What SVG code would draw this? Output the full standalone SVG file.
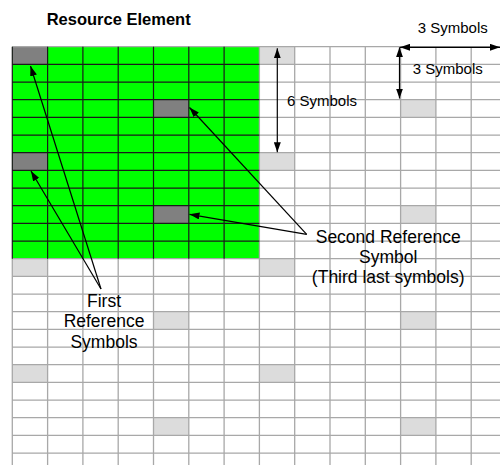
<svg xmlns="http://www.w3.org/2000/svg" width="500" height="465" viewBox="0 0 500 465">
<defs>
<style>
.gl{stroke:#a8a8a8;stroke-width:1.3;fill:none}
.bl{stroke:#1a1a1a;stroke-width:1.2;fill:none}
.lt{fill:#dcdcdc}
.dk{fill:#808080}
.ar{stroke:#000;stroke-width:1.2;fill:none}
.t{font-family:"Liberation Sans",Arial,sans-serif;fill:#000}
</style>
<marker id="ah" viewBox="0 0 10 7" refX="10" refY="3.5" markerWidth="10" markerHeight="7" markerUnits="userSpaceOnUse" orient="auto-start-reverse">
<path d="M0,0 L10,3.5 L0,7 z" fill="#000"/>
</marker>
</defs>
<rect width="500" height="465" fill="#fff"/>
<g id="grid">
<rect x="12.3" y="46.7" width="247.1" height="212" fill="#00ff00"/>
<g id="light-cells">
<rect class="lt" x="259.4" y="46.7" width="35.3" height="17.67"/>
<rect class="lt" x="259.4" y="152.7" width="35.3" height="17.67"/>
<rect class="lt" x="400.6" y="99.7" width="35.3" height="17.67"/>
<rect class="lt" x="400.6" y="205.7" width="35.3" height="17.67"/>
<rect class="lt" x="12.3" y="258.7" width="35.3" height="17.67"/>
<rect class="lt" x="259.4" y="258.7" width="35.3" height="17.67"/>
<rect class="lt" x="153.5" y="311.7" width="35.3" height="17.67"/>
<rect class="lt" x="400.6" y="311.7" width="35.3" height="17.67"/>
<rect class="lt" x="12.3" y="364.7" width="35.3" height="17.67"/>
<rect class="lt" x="259.4" y="364.7" width="35.3" height="17.67"/>
<rect class="lt" x="153.5" y="417.7" width="35.3" height="17.67"/>
<rect class="lt" x="400.6" y="417.7" width="35.3" height="17.67"/>
</g>
<g id="dark-cells">
<rect class="dk" x="12.3" y="46.7" width="35.3" height="17.67"/>
<rect class="dk" x="153.5" y="99.7" width="35.3" height="17.67"/>
<rect class="dk" x="12.3" y="152.7" width="35.3" height="17.67"/>
<rect class="dk" x="153.5" y="205.7" width="35.3" height="17.67"/>
</g>
<path class="gl" d="M259.4,46.7V465 M294.7,46.7V465 M330,46.7V465 M365.3,46.7V465 M400.6,46.7V465 M435.9,46.7V465 M471.2,46.7V465 M12.3,258.7V465 M47.6,258.7V465 M82.9,258.7V465 M118.2,258.7V465 M153.5,258.7V465 M188.8,258.7V465 M224.1,258.7V465
M12.3,46.7H500 M259.4,64.37H500 M259.4,82.03H500 M259.4,99.7H500 M259.4,117.37H500 M259.4,135.03H500 M259.4,152.7H500 M259.4,170.37H500 M259.4,188.03H500 M259.4,205.7H500 M259.4,223.37H500 M259.4,241.03H500 M12.3,258.7H500 M12.3,276.37H500 M12.3,294.03H500 M12.3,311.7H500 M12.3,329.37H500 M12.3,347.03H500 M12.3,364.7H500 M12.3,382.37H500 M12.3,400.03H500 M12.3,417.7H500 M12.3,435.37H500 M12.3,453.03H500"/>
<path class="bl" d="M12.3,46.7V258.7 M47.6,46.7V258.7 M82.9,46.7V258.7 M118.2,46.7V258.7 M153.5,46.7V258.7 M188.8,46.7V258.7 M224.1,46.7V258.7
M12.3,64.37H259.4 M12.3,82.03H259.4 M12.3,99.7H259.4 M12.3,117.37H259.4 M12.3,135.03H259.4 M12.3,152.7H259.4 M12.3,170.37H259.4 M12.3,188.03H259.4 M12.3,205.7H259.4 M12.3,223.37H259.4 M12.3,241.03H259.4"/>
</g>
<g id="connectors">
<line class="ar" x1="277.3" y1="48.3" x2="277.3" y2="152.3" marker-start="url(#ah)" marker-end="url(#ah)"/>
<line class="ar" x1="400" y1="47.3" x2="500" y2="47.3" marker-start="url(#ah)" marker-end="url(#ah)"/>
<line class="ar" x1="399.5" y1="47.3" x2="399.5" y2="98.5" marker-start="url(#ah)" marker-end="url(#ah)"/>
<line class="ar" x1="101" y1="289" x2="30.5" y2="66" marker-end="url(#ah)"/>
<line class="ar" x1="101" y1="289" x2="31" y2="171" marker-end="url(#ah)"/>
<line class="ar" x1="306.7" y1="234.3" x2="189.5" y2="107.5" marker-end="url(#ah)"/>
<line class="ar" x1="306.7" y1="234.3" x2="189.5" y2="214.3" marker-end="url(#ah)"/>
</g>
<g id="labels">
<text class="t" x="46.7" y="25" font-size="16.5" font-weight="bold">Resource Element</text>
<text class="t" x="417.7" y="33.3" font-size="15">3 Symbols</text>
<text class="t" x="412.7" y="74" font-size="15">3 Symbols</text>
<text class="t" x="287" y="106" font-size="15">6 Symbols</text>
<text class="t" font-size="17.5" text-anchor="middle"><tspan x="388.2" y="243.3">Second Reference</tspan><tspan x="388.2" y="263.3">Symbol</tspan><tspan x="388.2" y="283.3">(Third last symbols)</tspan></text>
<text class="t" font-size="17.5" text-anchor="middle"><tspan x="104" y="306.7">First</tspan><tspan x="104" y="327.3">Reference</tspan><tspan x="104" y="347.7">Symbols</tspan></text>
</g>
</svg>
